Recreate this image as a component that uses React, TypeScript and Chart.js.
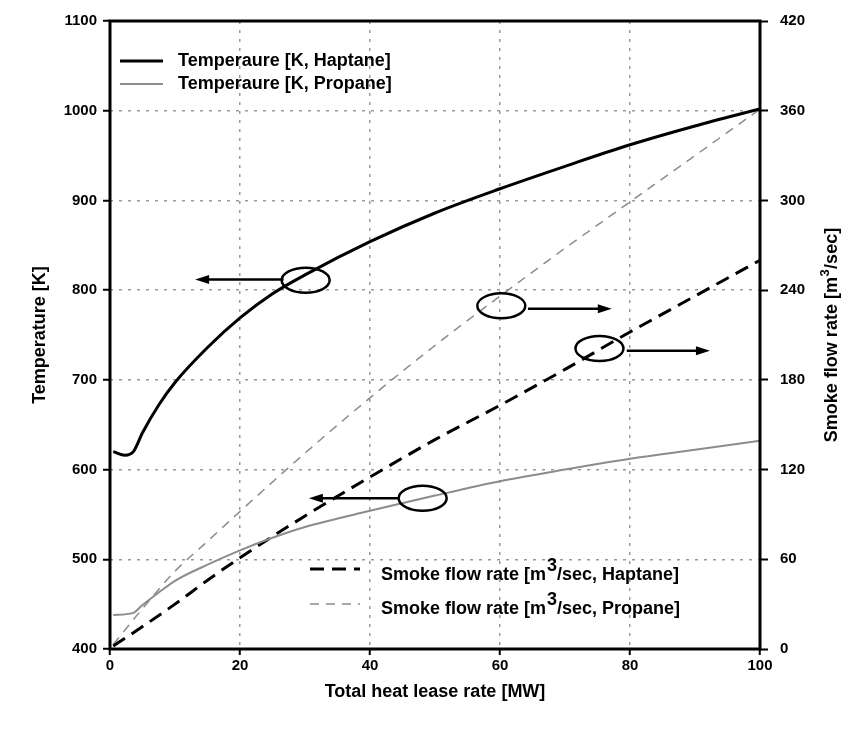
import React, { useEffect, useRef } from 'react';
import { Chart, registerables } from 'chart.js';
Chart.register(...registerables);

const FAMILY = '"Liberation Sans", Arial, sans-serif';

const heatTempHaptane = [0.5, 2.3, 3.6, 5, 7.5, 10, 15, 20, 25, 30, 40, 50, 60, 70, 80, 90, 100];
const tempHaptane = [620, 616, 620, 641, 672, 697, 736, 769, 796, 817, 854, 886, 913, 938, 962, 983, 1002];
const heatTempPropane = [0.5, 3.5, 5, 7.5, 10, 15, 20, 25, 30, 40, 50, 60, 70, 80, 90, 100];
const tempPropane = [438, 440, 449, 463, 476, 494, 510, 524, 536, 554, 571, 587, 600, 612, 622, 632];
const heatSmoke = [0.5, 5, 10, 15, 20, 30, 40, 50, 60, 70, 80, 90, 100];
const smokeHaptane = [2, 15, 30, 46, 61, 89, 115, 140, 163, 187, 212, 236, 260];
const smokePropane = [3, 27, 52, 72, 92, 131, 168, 203, 236, 268, 299, 330, 361];

const seriesNames = [
  'Temperaure [K, Haptane]',
  'Temperaure [K, Propane]',
  'Smoke flow rate [m',
  'Smoke flow rate [m',
];
const smokeSuffix = ['/sec, Haptane]', '/sec, Propane]'];

// annotation ellipses & arrows, in data coordinates
const ellipseX = [30.1, 60.2, 75.3, 48.1];
const ellipseY = [811, 229.5, 201, 568];
const ellipseAxis = ['y', 'y1', 'y1', 'y'];
const arrowTail = [26.7, 64.3, 79.5, 44.3];
const arrowTip = [13.1, 77.2, 92.3, 30.6];
const arrowY = [812, 227.5, 199.5, 568];

const xTitle = 'Total heat lease rate [MW]';
const yTitle = 'Temperature [K]';
const y1TitleParts = ['Smoke flow rate [m', '3', '/sec]'];

const GRAY = '#8c8c8c';

const toPts = (xs: number[], ys: number[]) => xs.map((x, i) => ({ x, y: ys[i] }));

const overlay = {
  id: 'overlay',
  afterDatasetsDraw(chart: any) {
    const { ctx, chartArea: a, scales } = chart;
    const sx = scales.x;
    ctx.save();
    // frame
    ctx.strokeStyle = '#000';
    ctx.lineWidth = 3;
    ctx.strokeRect(a.left, a.top, a.right - a.left, a.bottom - a.top);

    // ellipses
    ctx.lineWidth = 2.5;
    ellipseX.forEach((ex, i) => {
      const sc = scales[ellipseAxis[i]];
      const cx = sx.getPixelForValue(ex);
      const cy = sc.getPixelForValue(ellipseY[i]);
      ctx.beginPath();
      ctx.ellipse(cx, cy, 24, 12.5, 0, 0, Math.PI * 2);
      ctx.stroke();
    });
    // arrows
    arrowTail.forEach((t, i) => {
      const sc = scales[ellipseAxis[i]];
      const x1 = sx.getPixelForValue(t);
      const x2 = sx.getPixelForValue(arrowTip[i]);
      const y = sc.getPixelForValue(arrowY[i]);
      const dir = x2 > x1 ? 1 : -1;
      ctx.beginPath();
      ctx.moveTo(x1, y);
      ctx.lineTo(x2 - dir * 10, y);
      ctx.lineWidth = 2.5;
      ctx.stroke();
      ctx.beginPath();
      ctx.moveTo(x2, y);
      ctx.lineTo(x2 - dir * 14, y - 4.5);
      ctx.lineTo(x2 - dir * 14, y + 4.5);
      ctx.closePath();
      ctx.fillStyle = '#000';
      ctx.fill();
    });

    // legends
    ctx.font = `bold 18px ${FAMILY}`;
    ctx.textBaseline = 'middle';
    ctx.fillStyle = '#000';
    const drawSample = (x1: number, x2: number, y: number, color: string, w: number, dash: number[]) => {
      ctx.beginPath();
      ctx.setLineDash(dash);
      ctx.strokeStyle = color;
      ctx.lineWidth = w;
      ctx.moveTo(x1, y);
      ctx.lineTo(x2, y);
      ctx.stroke();
      ctx.setLineDash([]);
    };
    const lx = a.left + 10;
    drawSample(lx, lx + 43, a.top + 40, '#000', 3, []);
    drawSample(lx, lx + 43, a.top + 63, GRAY, 2, []);
    ctx.textAlign = 'left';
    ctx.fillText(seriesNames[0], lx + 58, a.top + 40);
    ctx.fillText(seriesNames[1], lx + 58, a.top + 63);

    const bx = a.left + 200;
    const rows = [a.top + 554, a.top + 588];
    drawSample(bx, bx + 50, rows[0] - 6, '#000', 3, [14, 8]);
    drawSample(bx, bx + 50, rows[1] - 5, GRAY, 1.5, [9, 7]);
    rows.forEach((ry, i) => {
      let tx = bx + 71;
      ctx.font = `bold 18px ${FAMILY}`;
      ctx.fillText(seriesNames[2 + i], tx, ry);
      tx += ctx.measureText(seriesNames[2 + i]).width;
      ctx.fillText('3', tx + 1, ry - 9);
      tx += ctx.measureText('3').width + 1;
      ctx.fillText(smokeSuffix[i], tx, ry);
    });

    // right axis title (reads bottom to top)
    ctx.save();
    ctx.translate(chart.width - 20, (a.top + a.bottom) / 2);
    ctx.rotate(-Math.PI / 2);
    ctx.textAlign = 'left';
    const big = `bold 18px ${FAMILY}`;
    const small = `bold 13px ${FAMILY}`;
    ctx.font = big;
    const w0 = ctx.measureText(y1TitleParts[0]).width;
    const w2 = ctx.measureText(y1TitleParts[2]).width;
    ctx.font = small;
    const w1 = ctx.measureText(y1TitleParts[1]).width + 1;
    let tx = -(w0 + w1 + w2) / 2;
    ctx.font = big;
    ctx.fillText(y1TitleParts[0], tx, 0);
    tx += w0;
    ctx.font = small;
    ctx.fillText(y1TitleParts[1], tx + 0.5, -7);
    tx += w1;
    ctx.font = big;
    ctx.fillText(y1TitleParts[2], tx, 0);
    ctx.restore();

    ctx.restore();
  },
};

const tickFont = { size: 15, weight: 'bold' as const, family: FAMILY };
const titleFont = { size: 18, weight: 'bold' as const, family: FAMILY };
const plain = (v: any) => String(v);

export default function App() {
  const ref = useRef<HTMLCanvasElement>(null);
  useEffect(() => {
    document.body.style.margin = '0';
    const chart = new Chart(ref.current as HTMLCanvasElement, {
      type: 'line',
      data: {
        datasets: [
          {
            label: seriesNames[0],
            data: toPts(heatTempHaptane, tempHaptane),
            borderColor: '#000',
            borderWidth: 3,
            yAxisID: 'y',
          },
          {
            label: seriesNames[1],
            data: toPts(heatTempPropane, tempPropane),
            borderColor: GRAY,
            borderWidth: 2,
            yAxisID: 'y',
          },
          {
            label: 'Smoke flow rate [m³/sec, Haptane]',
            data: toPts(heatSmoke, smokeHaptane),
            borderColor: '#000',
            borderWidth: 3,
            borderDash: [14, 8],
            yAxisID: 'y1',
          },
          {
            label: 'Smoke flow rate [m³/sec, Propane]',
            data: toPts(heatSmoke, smokePropane),
            borderColor: GRAY,
            borderWidth: 1.5,
            borderDash: [9, 7],
            yAxisID: 'y1',
          },
        ],
      },
      options: {
        responsive: false,
        animation: false,
        layout: { padding: { top: 20, left: 0, right: 0, bottom: 0 } },
        elements: {
          point: { radius: 0 },
          line: { cubicInterpolationMode: 'monotone', fill: false },
        },
        plugins: { legend: { display: false }, tooltip: { enabled: false } },
        scales: {
          x: {
            type: 'linear',
            min: 0,
            max: 100,
            ticks: { stepSize: 20, color: '#000', font: tickFont, padding: 2, callback: plain },
            grid: {
              color: (c: any) => (c.tick && c.tick.value > 0 && c.tick.value < 100 ? '#9a9a9a' : 'rgba(0,0,0,0)'),
              lineWidth: 1.5,
              tickColor: '#000',
              tickLength: 6,
              tickWidth: 2,
              tickBorderDash: [],
            },
            border: { display: false, dash: [3, 6] },
            title: { display: true, text: xTitle, color: '#000', font: titleFont, padding: { top: 0, bottom: 26 } },
            afterFit: (s: any) => { s.height = 80; },
          },
          y: {
            type: 'linear',
            position: 'left',
            min: 400,
            max: 1100,
            ticks: { stepSize: 100, color: '#000', font: tickFont, padding: 6, callback: plain },
            grid: {
              color: (c: any) => (c.tick && c.tick.value > 400 && c.tick.value < 1100 ? '#9a9a9a' : 'rgba(0,0,0,0)'),
              lineWidth: 1.5,
              tickColor: '#000',
              tickLength: 7,
              tickWidth: 2,
              tickBorderDash: [],
            },
            border: { display: false, dash: [3, 6] },
            title: { display: true, text: yTitle, color: '#000', font: titleFont, padding: { top: 29, bottom: 0 } },
            afterFit: (s: any) => { s.width = 110; },
          },
          y1: {
            type: 'linear',
            position: 'right',
            min: 0,
            max: 420,
            ticks: { stepSize: 60, color: '#000', font: tickFont, padding: 12, callback: plain },
            grid: {
              drawOnChartArea: false,
              tickColor: '#000',
              tickLength: 8,
              tickWidth: 2,
              tickBorderDash: [],
            },
            border: { display: false },
            afterFit: (s: any) => { s.width = 92; },
          },
        },
      },
      plugins: [overlay],
    } as any);
    return () => chart.destroy();
  }, []);
  return (
    <div style={{ width: 852, height: 729 }}>
      <canvas ref={ref} width={852} height={729} />
    </div>
  );
}
